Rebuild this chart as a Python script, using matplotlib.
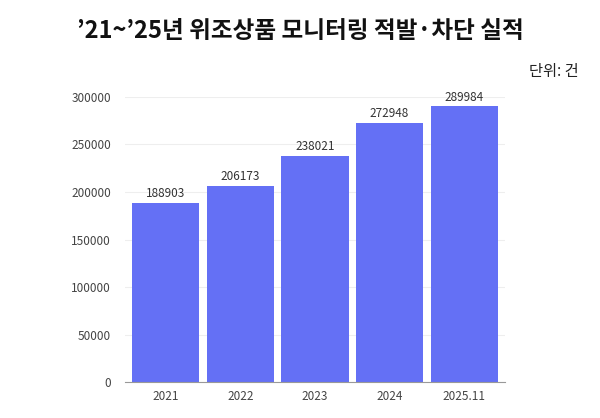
import matplotlib
matplotlib.use("Agg")
import matplotlib.pyplot as plt

plt.rcParams['font.family'] = ['Noto Sans CJK KR', 'DejaVu Sans']

years = ["2021", "2022", "2023", "2024", "2025.11"]
values = [188903, 206173, 238021, 272948, 289984]
yticks = [0, 50000, 100000, 150000, 200000, 250000, 300000]

fig = plt.figure(figsize=(6, 4.18), dpi=100)
ax = fig.add_axes([0.208, 0.086, 0.634, 0.682])
bars = ax.bar(range(len(years)), values, width=0.9, color="#6470F5", zorder=2)
for i, v in enumerate(values):
    ax.text(i, v + 3000, str(v), ha="center", va="bottom", fontsize=8.5, color="#333333", clip_on=False)
ax.set_xlim(-0.55, 4.55)
ax.set_ylim(0, 300000)
ax.set_yticks(yticks)
ax.set_yticklabels([str(t) for t in yticks], fontsize=8.5, color="#444444")
ax.set_xticks(range(len(years)))
ax.set_xticklabels(years, fontsize=8.5, color="#444444")
ax.grid(axis="y", color="#eeeeee", lw=0.8, zorder=0)
for s in ["top", "right", "left"]:
    ax.spines[s].set_visible(False)
ax.spines["bottom"].set_color("#999999")
ax.tick_params(axis="y", length=0, pad=10)
ax.tick_params(axis="x", length=0, pad=6)
fig.text(0.5, 0.925, "’21~’25년 위조상품 모니터링 적발·차단 실적", ha="center", va="center",
         fontsize=17, fontweight="bold", color="#111111")
fig.text(0.965, 0.828, "단위: 건", ha="right", va="center", fontsize=11, color="#222222")
fig.savefig("out.png", dpi=100, facecolor="white")
